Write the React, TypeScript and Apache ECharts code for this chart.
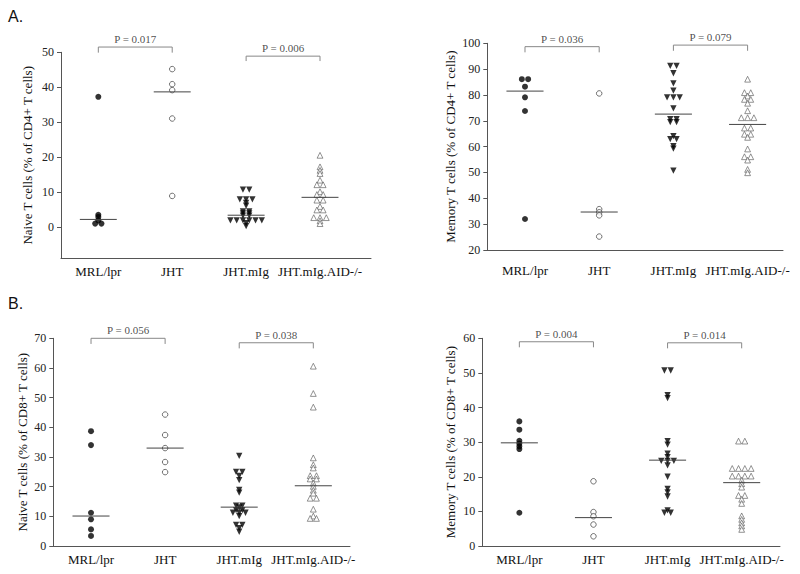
import React, { useEffect, useRef } from 'react';
import * as echarts from 'echarts';

// ---------- data ----------
const GROUPS = ['MRL/lpr', 'JHT', 'JHT.mIg', 'JHT.mIg.AID-/-'];

// A (left): naive T cells, % of CD4+
const naiveCD4MRL = [37.3, 3.6, 3.0, 2.0, 1.1, 1.1];
const naiveCD4JHT = [45.2, 40.9, 39.2, 31.1, 9.0];
const naiveCD4MIg = [10.8, 10.8, 8.0, 8.0, 8.0, 7.0, 6.2, 4.6, 4.6, 4.0, 4.0, 3.4, 3.4, 2.0, 2.0, 2.0, 2.0, 2.0, 2.0, 1.2, 0.4];
const naiveCD4AID = [20.6, 17.3, 16.3, 15.4, 13.5, 12.2, 12.2, 10.2, 9.4, 9.4, 7.8, 7.8, 6.0, 5.0, 5.0, 2.8, 2.8, 2.8, 1.9, 1.1];
const naiveCD4Medians = [2.3, 38.7, 3.5, 8.6];
const naiveCD4P = ['P = 0.017', 'P = 0.006'];
const naiveCD4Ticks = [0, 10, 20, 30, 40, 50];

// A (right): memory T cells, % of CD4+
const memoryCD4MRL = [86.1, 86.1, 83.2, 79.1, 73.8, 32.0];
const memoryCD4JHT = [80.6, 35.8, 34.6, 33.4, 25.2];
const memoryCD4MIg = [91.3, 91.3, 88.4, 84.5, 81.7, 79.1, 79.1, 79.1, 74.8, 70.6, 70.6, 69.5, 69.5, 64.1, 62.9, 62.9, 60.2, 59.2, 50.7];
const memoryCD4AID = [86.1, 80.9, 80.9, 79.6, 78.3, 78.3, 76.8, 73.9, 71.2, 71.2, 71.2, 67.2, 67.2, 64.8, 64.8, 63.6, 59.1, 56.1, 56.1, 54.8, 51.2, 49.9];
const memoryCD4Medians = [81.5, 34.7, 72.6, 68.6];
const memoryCD4P = ['P = 0.036', 'P = 0.079'];
const memoryCD4Ticks = [20, 30, 40, 50, 60, 70, 80, 90, 100];

// B (left): naive T cells, % of CD8+
const naiveCD8MRL = [38.7, 34.0, 11.2, 9.0, 5.6, 3.4];
const naiveCD8JHT = [44.3, 37.4, 33.0, 28.3, 24.9];
const naiveCD8MIg = [30.4, 25.0, 25.0, 23.6, 22.2, 18.9, 18.0, 13.6, 13.6, 13.0, 12.1, 12.1, 11.2, 11.2, 11.2, 10.1, 7.1, 7.1, 6.0, 4.8];
const naiveCD8AID = [60.6, 51.4, 46.8, 29.7, 27.4, 26.3, 23.7, 23.7, 22.6, 22.6, 21.2, 20.1, 18.8, 17.8, 16.1, 16.1, 12.4, 10.1, 9.3, 9.3];
const naiveCD8Medians = [10.1, 33.0, 13.1, 20.3];
const naiveCD8P = ['P = 0.056', 'P = 0.038'];
const naiveCD8Ticks = [0, 10, 20, 30, 40, 50, 60, 70];

// B (right): memory T cells, % of CD8+
const memoryCD8MRL = [36.0, 33.6, 30.4, 29.6, 28.8, 28.0, 9.6];
const memoryCD8JHT = [18.7, 9.8, 8.6, 6.2, 2.8];
const memoryCD8MIg = [50.7, 50.7, 43.6, 42.7, 30.3, 29.3, 26.7, 25.7, 24.6, 24.6, 24.6, 23.3, 20.0, 16.5, 15.5, 14.3, 10.3, 9.6, 9.6];
const memoryCD8AID = [30.3, 30.3, 22.4, 22.4, 22.4, 22.4, 20.2, 20.2, 20.2, 20.2, 19.0, 18.0, 17.0, 14.6, 14.6, 13.5, 12.3, 8.7, 7.7, 6.7, 5.8, 4.8];
const memoryCD8Medians = [29.8, 8.2, 24.8, 18.3];
const memoryCD8P = ['P = 0.004', 'P = 0.014'];
const memoryCD8Ticks = [0, 10, 20, 30, 40, 50, 60];

// ---------- layout ----------
const SERIF = '"Liberation Serif", "Times New Roman", serif';
const AXIS_COLOR = '#555';

const panels = [
  {
    name: 'Naive T cells (% of CD4+ T cells)', groups: [naiveCD4MRL, naiveCD4JHT, naiveCD4MIg, naiveCD4AID],
    medians: naiveCD4Medians, pvals: naiveCD4P, ticks: naiveCD4Ticks,
    grid: { left: 61, top: 52.3, width: 310, height: 206 },
    y: [-8.8, 50], x: [0.495, 4.69], nameGap: 27, xMargin: 7,
    brackets: [[51.5, 49.9], [48.9, 47.5]],
  },
  {
    name: 'Memory T cells (% of CD4+ T cells)', groups: [memoryCD4MRL, memoryCD4JHT, memoryCD4MIg, memoryCD4AID],
    medians: memoryCD4Medians, pvals: memoryCD4P, ticks: memoryCD4Ticks,
    grid: { left: 487.3, top: 43.3, width: 295.7, height: 206.7 },
    y: [20, 100], x: [0.492, 4.477], nameGap: 30, xMargin: 14,
    brackets: [[98.7, 96.5], [99.3, 97.1]],
  },
  {
    name: 'Naive T cells (% of CD8+ T cells)', groups: [naiveCD8MRL, naiveCD8JHT, naiveCD8MIg, naiveCD8AID],
    medians: naiveCD8Medians, pvals: naiveCD8P, ticks: naiveCD8Ticks,
    grid: { left: 53.3, top: 338.3, width: 296.7, height: 207.7 },
    y: [0, 70], x: [0.491, 4.495], nameGap: 24, xMargin: 7,
    brackets: [[70.0, 68.1], [68.5, 66.6]],
  },
  {
    name: 'Memory T cells (% of CD8+ T cells)', groups: [memoryCD8MRL, memoryCD8JHT, memoryCD8MIg, memoryCD8AID],
    medians: memoryCD8Medians, pvals: memoryCD8P, ticks: memoryCD8Ticks,
    grid: { left: 482.3, top: 338.3, width: 297.7, height: 207.7 },
    y: [0, 60], x: [0.5, 4.517], nameGap: 25, xMargin: 7,
    brackets: [[59.0, 57.4], [58.7, 57.1]],
  },
];

const markerStyles = [
  { symbol: 'circle', symbolSize: 6, symbolRotate: 0, itemStyle: { color: '#000' } },
  { symbol: 'circle', symbolSize: 5.5, symbolRotate: 0, itemStyle: { color: '#fff', borderColor: '#222', borderWidth: 0.8 } },
  { symbol: 'triangle', symbolSize: 6.3, symbolRotate: 180, itemStyle: { color: '#000' } },
  { symbol: 'triangle', symbolSize: 5.8, symbolRotate: 0, itemStyle: { color: '#fff', borderColor: '#555', borderWidth: 0.8 } },
];

const STEP = 0.085; // horizontal spacing (x units) of tied points
const HALF = 0.25; // half-width of median bar

// tied values are placed side by side around the category centre
function spread(values: number[], center: number): number[][] {
  const counts = new Map<number, number>();
  values.forEach((v) => counts.set(v, (counts.get(v) || 0) + 1));
  const seen = new Map<number, number>();
  return values.map((v) => {
    const n = counts.get(v) || 1;
    const i = seen.get(v) || 0;
    seen.set(v, i + 1);
    return [center + (i - (n - 1) / 2) * STEP, v];
  });
}

function buildOption() {
  const grids: any[] = [];
  const xAxes: any[] = [];
  const yAxes: any[] = [];
  const series: any[] = [];

  panels.forEach((p, pi) => {
    grids.push({ ...p.grid, containLabel: false, outerBoundsMode: 'none' });
    xAxes.push({
      type: 'value', gridIndex: pi, min: p.x[0], max: p.x[1],
      axisLine: { show: true, onZero: false, lineStyle: { color: AXIS_COLOR, width: 1 } },
      axisTick: { show: false },
      splitLine: { show: false },
      axisLabel: {
        customValues: [1, 2, 3, 4],
        formatter: (v: number) => GROUPS[Math.round(v) - 1] || '',
        margin: p.xMargin, fontFamily: SERIF, fontSize: 13, color: '#111',
      },
    });
    yAxes.push({
      type: 'value', gridIndex: pi, min: p.y[0], max: p.y[1],
      axisLine: { show: true, onZero: false, lineStyle: { color: AXIS_COLOR, width: 1 } },
      axisTick: { show: true, length: 4, customValues: p.ticks, lineStyle: { color: AXIS_COLOR } },
      axisLabel: { customValues: p.ticks, margin: 7, fontFamily: SERIF, fontSize: 12, color: '#222' },
      splitLine: { show: false },
      name: p.name, nameLocation: 'middle', nameGap: p.nameGap,
      nameTextStyle: { fontFamily: SERIF, fontSize: 13, color: '#111' },
    });

    p.groups.forEach((vals, gi) => {
      const m = markerStyles[gi];
      series.push({
        type: 'scatter', xAxisIndex: pi, yAxisIndex: pi,
        symbol: m.symbol, symbolSize: m.symbolSize, symbolRotate: m.symbolRotate,
        itemStyle: m.itemStyle, data: spread(vals, gi + 1), z: 3,
      });
      series.push({
        type: 'line', xAxisIndex: pi, yAxisIndex: pi, symbol: 'none', z: 4,
        lineStyle: { color: '#444', width: 1 },
        data: [[gi + 1 - HALF, p.medians[gi]], [gi + 1 + HALF, p.medians[gi]]],
      });
    });

    const pairs = [[1, 2], [3, 4]];
    const labelData: any[] = [];
    pairs.forEach(([a, b], k) => {
      const [lvl, drop] = p.brackets[k];
      series.push({
        type: 'line', xAxisIndex: pi, yAxisIndex: pi, symbol: 'none', clip: false,
        lineStyle: { color: '#888', width: 1 },
        data: [[a, drop], [a, lvl], [b, lvl], [b, drop]],
      });
      labelData.push({ value: [(a + b) / 2, lvl], name: p.pvals[k] });
    });
    series.push({
      type: 'scatter', xAxisIndex: pi, yAxisIndex: pi, clip: false,
      symbolSize: 1, itemStyle: { color: 'rgba(0,0,0,0)' },
      label: {
        show: true, position: 'top', distance: 2, formatter: (d: any) => d.name,
        fontFamily: SERIF, fontSize: 11, color: '#222',
      },
      data: labelData,
    });
  });

  return {
    animation: false,
    backgroundColor: '#fff',
    grid: grids,
    xAxis: xAxes,
    yAxis: yAxes,
    series,
    graphic: [
      { type: 'text', left: 8, top: 8, style: { text: 'A.', font: '16px "Liberation Sans", Arial, sans-serif', fill: '#111' } },
      { type: 'text', left: 8, top: 295, style: { text: 'B.', font: '16px "Liberation Sans", Arial, sans-serif', fill: '#111' } },
    ],
  };
}

export default function App() {
  const ref = useRef<HTMLDivElement>(null);
  useEffect(() => {
    document.body.style.margin = '0';
    const chart = echarts.init(ref.current!, null, { renderer: 'svg' });
    chart.setOption(buildOption() as any);
    return () => chart.dispose();
  }, []);
  return <div ref={ref} style={{ width: 800, height: 574 }} />;
}
